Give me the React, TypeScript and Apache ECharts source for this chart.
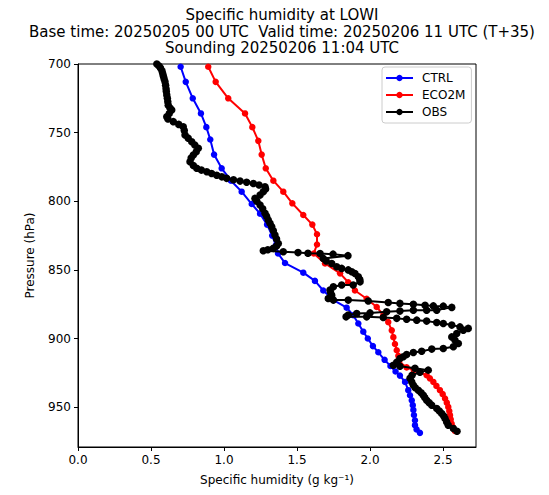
import React, { useEffect, useRef } from "react";
import * as echarts from "echarts";

const titleLines = [
  "Specific humidity at LOWI",
  "Base time: 20250205 00 UTC  Valid time: 20250206 11 UTC (T+35)",
  "Sounding 20250206 11:04 UTC",
];
const xTicks = [0, 0.5, 1.0, 1.5, 2.0, 2.5];
const yTicks = [700, 750, 800, 850, 900, 950];
const seriesNames = ["CTRL", "ECO2M", "OBS"];

// [specific humidity g/kg, pressure hPa]
const ctrl: number[][] = [
  [0.703, 702], [0.738, 713], [0.786, 725], [0.842, 736], [0.879, 746], [0.906, 755],
  [0.932, 766], [0.984, 776], [1.048, 785], [1.121, 793], [1.19, 802], [1.247, 809],
  [1.295, 817], [1.33, 825], [1.355, 832], [1.37, 838], [1.418, 845], [1.543, 852],
  [1.623, 858], [1.68, 865], [1.75, 872], [1.84, 877.5], [1.885, 883], [1.92, 889],
  [1.954, 895], [1.985, 900], [2.02, 905.5], [2.057, 910], [2.1, 915.5], [2.14, 920],
  [2.175, 924], [2.205, 927], [2.24, 931.6], [2.262, 937.6], [2.274, 941.3], [2.286, 945],
  [2.293, 948.5], [2.297, 952], [2.301, 955.7], [2.308, 959.5], [2.308, 963.1],
  [2.319, 966.2], [2.342, 968.7],
];

const eco2m: number[][] = [
  [0.892, 702], [0.943, 713], [1.029, 725], [1.144, 736], [1.194, 746], [1.235, 756],
  [1.258, 766], [1.286, 776], [1.338, 785], [1.406, 793], [1.468, 801.5], [1.543, 810],
  [1.605, 817], [1.637, 824], [1.637, 831.5], [1.615, 838], [1.692, 845.3], [1.795, 852.5],
  [1.851, 859], [1.897, 865], [1.977, 871], [2.046, 877], [2.091, 883], [2.125, 888],
  [2.149, 894], [2.16, 899], [2.171, 904], [2.183, 908.5], [2.194, 912.5], [2.2, 917],
  [2.251, 921], [2.3, 923], [2.388, 926.7], [2.41, 929], [2.434, 931.6], [2.455, 934.5],
  [2.479, 937.6], [2.498, 940.5], [2.514, 943.7], [2.526, 946.7], [2.536, 949.8],
  [2.543, 952.8], [2.548, 955.8], [2.553, 958.8], [2.559, 961.9], [2.568, 964.5],
  [2.582, 967.3],
];

const obs: number[][] = [
  [0.54, 700], [0.555, 701.5], [0.565, 703], [0.575, 705], [0.58, 707], [0.585, 709],
  [0.59, 711], [0.596, 713], [0.6, 715.5], [0.603, 718], [0.605, 720], [0.608, 722.6],
  [0.612, 725], [0.615, 727.5], [0.618, 730], [0.63, 732], [0.642, 733.5], [0.625, 736],
  [0.608, 738.4], [0.616, 740], [0.653, 742], [0.69, 744], [0.721, 745.7], [0.728, 748.5],
  [0.733, 751.7], [0.755, 754], [0.779, 756.6], [0.8, 759], [0.824, 761.4], [0.81, 764],
  [0.79, 766.3], [0.775, 768.5], [0.767, 771.2], [0.79, 774], [0.813, 776], [0.845, 777.3],
  [0.882, 778.5], [0.915, 779.8], [0.95, 781], [0.985, 782.2], [1.018, 783.3], [1.065, 784.3],
  [1.11, 785.3], [1.155, 786.2], [1.201, 787], [1.24, 788.2], [1.281, 789.4], [1.285, 791],
  [1.269, 793], [1.247, 795.5], [1.212, 797.9], [1.225, 800], [1.247, 802.8], [1.265, 805.5],
  [1.281, 808.8], [1.292, 811], [1.303, 813.7], [1.315, 816], [1.327, 818.6], [1.338, 821.5],
  [1.349, 824.6], [1.36, 827.5], [1.372, 830.7], [1.36, 832.5], [1.338, 834.3], [1.3, 835.3],
  [1.269, 836], [1.406, 836.8], [1.507, 837.4], [1.575, 837.8], [1.658, 838.1], [1.747, 838.5],
  [1.849, 839.6], [1.68, 841.6], [1.7, 843.5], [1.738, 845.3], [1.772, 847.7], [1.806, 848.9],
  [1.851, 850], [1.875, 851.3], [1.897, 852.6], [1.92, 855], [1.93, 857], [1.932, 858.7],
  [1.885, 861], [1.806, 861], [1.749, 862.3], [1.726, 864.7], [1.73, 866.5], [1.738, 868.4],
  [1.714, 870.8], [1.749, 872], [1.851, 872], [1.988, 872.7], [2.125, 873.7], [2.205, 874.4],
  [2.297, 875.1], [2.377, 875.7], [2.434, 876.2], [2.502, 876.4], [2.56, 877.3], [2.457, 879.3],
  [2.388, 879.3], [2.297, 879.3], [2.205, 880], [2.114, 880.5], [2.0, 881.3], [1.909, 881.7],
  [1.851, 882.9], [1.836, 884.2], [1.977, 884.2], [2.091, 884.6], [2.183, 885.3], [2.251, 885.9],
  [2.32, 886.6], [2.388, 887.3], [2.457, 888.3], [2.502, 889], [2.56, 890.2], [2.616, 891.5],
  [2.673, 892.6], [2.639, 893.9], [2.594, 896.3], [2.56, 898.8], [2.582, 901.2], [2.605, 903.6],
  [2.571, 906], [2.502, 907.2], [2.423, 907.7], [2.354, 909.2], [2.297, 910.1], [2.251, 911.6],
  [2.228, 913.3], [2.205, 914.5], [2.183, 917.2], [2.16, 919.4], [2.205, 920.1], [2.308, 921.6],
  [2.399, 923], [2.342, 924.5], [2.288, 926.7], [2.274, 928.9], [2.286, 931.6], [2.297, 934],
  [2.31, 935.8], [2.331, 937.6], [2.35, 939.5], [2.365, 941.3], [2.375, 943], [2.388, 944.9],
  [2.405, 946.7], [2.423, 948.5], [2.457, 951], [2.475, 952.8], [2.491, 954.6], [2.505, 956.4],
  [2.514, 958.2], [2.525, 960.7], [2.536, 963.1], [2.571, 965.5], [2.596, 967.5],
];

const colors = ["#0000ff", "#ff0000", "#000000"];
const symbolSizes = [6.5, 6.5, 7.5];
const FONT = "DejaVu Sans";

export default function App() {
  const ref = useRef<HTMLDivElement>(null);
  useEffect(() => {
    if (!ref.current) return;
    const chart = echarts.init(ref.current, undefined, { renderer: "svg" });
    const datasets = [ctrl, eco2m, obs];
    chart.setOption({
      animation: false,
      backgroundColor: "#ffffff",
      title: {
        text: titleLines.join("\n"),
        left: 277,
        top: 2,
        textAlign: "center",
        textStyle: {
          fontFamily: FONT,
          fontSize: 15,
          fontWeight: "normal",
          color: "#000",
          lineHeight: 16.5,
        },
      },
      legend: {
        orient: "vertical",
        left: 382,
        top: 67,
        padding: [5, 6, 5, 3],
        itemGap: 5,
        itemWidth: 27,
        itemHeight: 8,
        borderColor: "#cccccc",
        borderWidth: 1,
        borderRadius: 3,
        backgroundColor: "rgba(255,255,255,0.8)",
        textStyle: { fontFamily: FONT, fontSize: 12, color: "#000", padding: [0, 0, 0, 4] },
        data: seriesNames,
      },
      grid: {
        left: 78,
        right: 73,
        top: 64,
        bottom: 48,
        show: true,
        borderColor: "#000",
        borderWidth: 1,
        backgroundColor: "transparent",
      },
      xAxis: {
        type: "value",
        min: 0,
        max: 2.726,
        name: "Specific humidity (g kg⁻¹)",
        nameLocation: "middle",
        nameGap: 27,
        nameTextStyle: { fontFamily: FONT, fontSize: 12, color: "#000" },
        axisLine: { show: true, lineStyle: { color: "#000", width: 1 } },
        axisTick: { show: true, length: 4, lineStyle: { color: "#000" }, customValues: xTicks },
        axisLabel: {
          customValues: xTicks,
          fontFamily: FONT,
          fontSize: 12,
          color: "#000",
          margin: 7,
          formatter: (v: number) => v.toFixed(1),
        },
        splitLine: { show: false },
      },
      yAxis: {
        type: "value",
        inverse: true,
        min: 700,
        max: 979,
        name: "Pressure (hPa)",
        nameLocation: "middle",
        nameGap: 42,
        nameTextStyle: { fontFamily: FONT, fontSize: 12, color: "#000" },
        axisLine: { show: true, lineStyle: { color: "#000", width: 1 } },
        axisTick: { show: true, length: 4, lineStyle: { color: "#000" }, customValues: yTicks },
        axisLabel: {
          customValues: yTicks,
          fontFamily: FONT,
          fontSize: 12,
          color: "#000",
          margin: 7,
          formatter: (v: number) => String(v),
        },
        splitLine: { show: false },
      },
      series: seriesNames.map((name, i) => ({
        name,
        type: "line",
        data: datasets[i],
        symbol: "circle",
        symbolSize: symbolSizes[i],
        showSymbol: true,
        clip: true,
        lineStyle: { color: colors[i], width: 2 },
        itemStyle: { color: colors[i], borderWidth: 0 },
        z: 2 + i,
      })),
    });
    return () => chart.dispose();
  }, []);
  return (
    <div
      ref={ref}
      style={{ position: "fixed", left: 0, top: 0, width: 549, height: 495 }}
    />
  );
}
